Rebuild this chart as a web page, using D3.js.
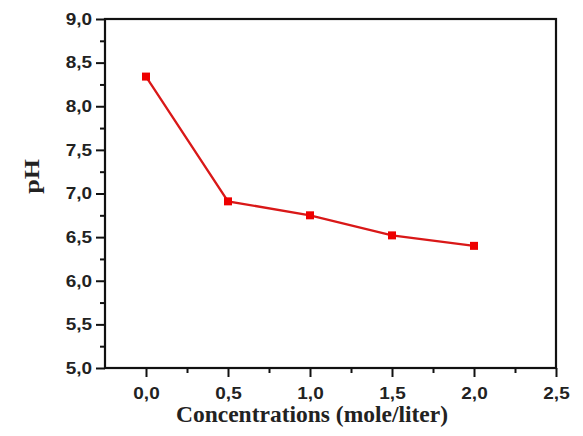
<!DOCTYPE html>
<html>
<head>
<meta charset="utf-8">
<script src="https://cdn.jsdelivr.net/npm/d3@7"></script>
<style>
  body { margin: 0; background: #fff; }
  .tick text { font-family: Arial, "Liberation Sans", sans-serif; font-weight: bold; font-size: 16.5px; fill: #222; }
</style>
</head>
<body>
<div id="chart"></div>
<script>
// data
var concentrations = [0.0, 0.5, 1.0, 1.5, 2.0];
var phValues = [8.34, 6.91, 6.75, 6.52, 6.40];
var xTicks = [0.0, 0.5, 1.0, 1.5, 2.0, 2.5];
var yTicks = [5.0, 5.5, 6.0, 6.5, 7.0, 7.5, 8.0, 8.5, 9.0];

var W = 583, H = 436;
var margin = {top: 19, right: 27, bottom: 68, left: 105};
var width = W - margin.left - margin.right,
    height = H - margin.top - margin.bottom;

// labels in the picture are a bit wider than the font, stretch them
var stretch = 1.15;

var svg = d3.select("#chart").append("svg")
    .attr("width", W)
    .attr("height", H);

var g = svg.append("g")
    .attr("transform", "translate(" + margin.left + "," + margin.top + ")");

var x = d3.scaleLinear().domain([-0.25, 2.5]).range([0, width]);
var y = d3.scaleLinear().domain([5, 9]).range([height, 0]);

var fmt = function(d) { return d3.format(".1f")(d).replace(".", ","); };

function styleTicks(a) {
  a.select(".domain").remove();
  a.selectAll("line").attr("stroke-width", 2).attr("stroke", "#111");
}

// minor ticks
g.append("g")
    .attr("transform", "translate(0," + height + ")")
    .call(d3.axisBottom(x).tickValues(d3.range(0.25, 2.5, 0.5)).tickSize(5).tickFormat(""))
    .call(styleTicks);
g.append("g")
    .call(d3.axisLeft(y).tickValues(d3.range(5.25, 9, 0.5)).tickSize(5).tickFormat(""))
    .call(styleTicks);

// major ticks
g.append("g")
    .attr("transform", "translate(0," + height + ")")
    .call(d3.axisBottom(x).tickValues(xTicks).tickSize(9).tickPadding(10).tickFormat(fmt))
    .call(styleTicks)
    .call(function(a) { a.selectAll("text").attr("transform", "scale(" + stretch + ",1)"); });
g.append("g")
    .call(d3.axisLeft(y).tickValues(yTicks).tickSize(9).tickPadding(4).tickFormat(fmt))
    .call(styleTicks)
    .call(function(a) {
      a.selectAll("text")
        .attr("x", -13 / stretch)
        .attr("transform", "scale(" + stretch + ",1)");
    });

// frame
g.append("rect")
    .attr("width", width)
    .attr("height", height)
    .attr("fill", "none")
    .attr("stroke", "#111")
    .attr("stroke-width", 2.2);

var pts = concentrations.map(function(c, i) { return [c, phValues[i]]; });

g.append("path")
    .datum(pts)
    .attr("fill", "none")
    .attr("stroke", "#d91818")
    .attr("stroke-width", 2.3)
    .attr("d", d3.line().x(function(d) { return x(d[0]); }).y(function(d) { return y(d[1]); }));

g.selectAll(".pt")
    .data(pts)
    .enter().append("rect")
    .attr("class", "pt")
    .attr("x", function(d) { return x(d[0]) - 4; })
    .attr("y", function(d) { return y(d[1]) - 4; })
    .attr("width", 8)
    .attr("height", 8)
    .attr("fill", "#ee0000");

// axis titles
svg.append("text")
    .attr("x", 312)
    .attr("y", 422)
    .attr("text-anchor", "middle")
    .attr("font-family", "'Liberation Serif', 'Times New Roman', serif")
    .attr("font-weight", "bold")
    .attr("font-size", "23.5px")
    .attr("fill", "#222")
    .text("Concentrations (mole/liter)");

svg.append("text")
    .attr("transform", "translate(39,176.5) rotate(-90) scale(1,0.8)")
    .attr("text-anchor", "middle")
    .attr("font-family", "'Liberation Serif', 'Times New Roman', serif")
    .attr("font-weight", "bold")
    .attr("font-size", "26px")
    .attr("fill", "#222")
    .text("pH");
</script>
</body>
</html>
